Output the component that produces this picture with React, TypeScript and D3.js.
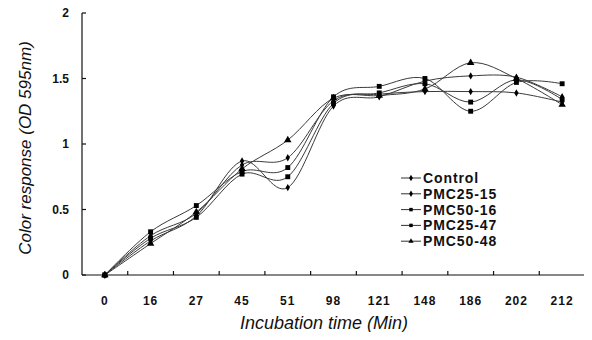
import { useEffect, useRef } from "react";
import * as d3 from "d3";

// ── Data ─────────────────────────────────────────────────────────────

const times = ["0", "16", "27", "45", "51", "98", "121", "148", "186", "202", "212"];

const control = [0, 0.3, 0.47, 0.84, 0.895, 1.33, 1.38, 1.4, 1.4, 1.39, 1.32];
const pmc2515 = [0, 0.26, 0.45, 0.87, 0.667, 1.29, 1.36, 1.48, 1.52, 1.51, 1.36];
const pmc5016 = [0, 0.33, 0.53, 0.79, 0.82, 1.36, 1.44, 1.5, 1.25, 1.47, 1.46];
const pmc2547 = [0, 0.28, 0.44, 0.77, 0.75, 1.31, 1.39, 1.46, 1.32, 1.49, 1.34];
const pmc5048 = [0, 0.24, 0.48, 0.81, 1.03, 1.35, 1.37, 1.42, 1.62, 1.5, 1.3];

const yTicks = [0, 0.5, 1, 1.5, 2];

type Marker = "diamond" | "square" | "triangle";

const series: { name: string; values: number[]; marker: Marker }[] = [
  { name: "Control", values: control, marker: "diamond" },
  { name: "PMC25-15", values: pmc2515, marker: "diamond" },
  { name: "PMC50-16", values: pmc5016, marker: "square" },
  { name: "PMC25-47", values: pmc2547, marker: "square" },
  { name: "PMC50-48", values: pmc5048, marker: "triangle" },
];

// ── Layout ───────────────────────────────────────────────────────────

const W = 592;
const H = 340;
const M = { left: 82, right: 7, top: 13, bottom: 65 };
const FONT = "'Liberation Sans', Arial, sans-serif";

function symbolFor(m: Marker) {
  if (m === "square") return d3.symbol(d3.symbolSquare, 24);
  if (m === "triangle") return d3.symbol(d3.symbolTriangle, 24);
  return d3.symbol(d3.symbolDiamond, 16);
}

export default function App() {
  const ref = useRef<SVGSVGElement>(null);

  useEffect(() => {
    const svg = d3.select(ref.current);
    svg.selectAll("*").remove();

    const x = d3
      .scaleBand<string>()
      .domain(times)
      .range([M.left, W - M.right]);
    const cx = (t: string) => (x(t) ?? 0) + x.bandwidth() / 2;

    const y = d3
      .scaleLinear()
      .domain([0, 2])
      .range([H - M.bottom, M.top]);

    // axes
    const g = svg.append("g").attr("stroke", "#111").attr("stroke-width", 1.2);
    g.append("line")
      .attr("x1", M.left)
      .attr("x2", M.left)
      .attr("y1", y(0))
      .attr("y2", y(2));
    g.append("line")
      .attr("x1", M.left)
      .attr("x2", W - M.right)
      .attr("y1", y(0))
      .attr("y2", y(0));

    // y ticks (inside)
    yTicks.forEach((v) => {
      g.append("line")
        .attr("x1", M.left)
        .attr("x2", M.left + 4)
        .attr("y1", y(v))
        .attr("y2", y(v));
      svg
        .append("text")
        .attr("x", M.left - 13)
        .attr("y", y(v) + 4)
        .attr("text-anchor", "end")
        .attr("font-family", FONT)
        .attr("font-weight", "bold")
        .attr("font-size", 12)
        .attr("fill", "#111")
        .text(String(v));
    });

    // x ticks at band edges (inside)
    times.forEach((t) => {
      const edge = (x(t) ?? 0) + x.bandwidth();
      g.append("line")
        .attr("x1", edge)
        .attr("x2", edge)
        .attr("y1", y(0))
        .attr("y2", y(0) - 4);
      svg
        .append("text")
        .attr("x", cx(t))
        .attr("y", y(0) + 30)
        .attr("text-anchor", "middle")
        .attr("font-family", FONT)
        .attr("font-weight", "bold")
        .attr("font-size", 12)
        .attr("letter-spacing", 1)
        .attr("fill", "#111")
        .text(t);
    });

    // axis titles
    svg
      .append("text")
      .attr("x", 324)
      .attr("y", 329)
      .attr("text-anchor", "middle")
      .attr("font-family", FONT)
      .attr("font-style", "italic")
      .attr("font-size", 18)
      .attr("fill", "#111")
      .text("Incubation time (Min)");
    svg
      .append("text")
      .attr("transform", "translate(31,148) rotate(-90)")
      .attr("text-anchor", "middle")
      .attr("font-family", FONT)
      .attr("font-style", "italic")
      .attr("font-size", 17)
      .attr("fill", "#111")
      .text("Color response (OD 595nm)");

    // lines
    const line = d3
      .line<number>()
      .x((_, i) => cx(times[i]))
      .y((d) => y(d))
      .curve(d3.curveCardinal.tension(0));

    series.forEach((s) => {
      svg
        .append("path")
        .datum(s.values)
        .attr("d", line)
        .attr("fill", "none")
        .attr("stroke", "#3a3a3a")
        .attr("stroke-width", 1);
    });

    series.forEach((s) => {
      const sym = symbolFor(s.marker);
      svg
        .append("g")
        .selectAll("path")
        .data(s.values)
        .join("path")
        .attr("d", sym() as string)
        .attr("transform", (d, i) => `translate(${cx(times[i])},${y(d)})`)
        .attr("fill", "#000");
    });

    // legend
    const lg = svg.append("g").attr("transform", "translate(401,178)");
    series.forEach((s, i) => {
      const row = lg.append("g").attr("transform", `translate(0,${i * 15.8})`);
      row
        .append("line")
        .attr("x1", 0)
        .attr("x2", 20)
        .attr("stroke", "#333")
        .attr("stroke-width", 1);
      row
        .append("path")
        .attr("d", symbolFor(s.marker).size(12)() as string)
        .attr("transform", "translate(10,0)")
        .attr("fill", "#000");
      row
        .append("text")
        .attr("x", 22)
        .attr("y", 5)
        .attr("font-family", FONT)
        .attr("font-weight", "bold")
        .attr("font-size", 14)
        .attr("letter-spacing", 0.9)
        .attr("fill", "#111")
        .text(s.name);
    });
  }, []);

  return (
    <svg
      ref={ref}
      width={W}
      height={H}
      style={{ display: "block", margin: -8, background: "#fff" }}
    />
  );
}
